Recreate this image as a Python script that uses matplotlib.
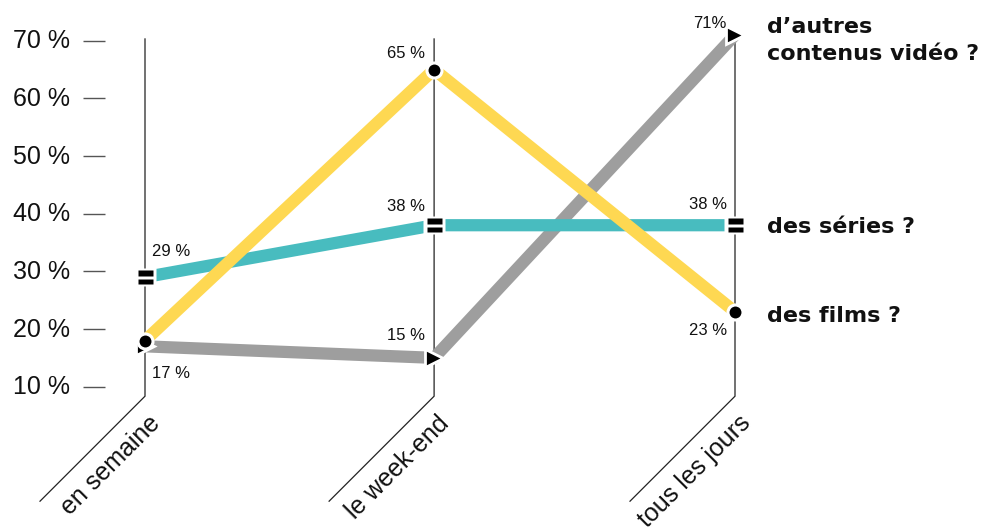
import matplotlib
matplotlib.use("Agg")
import matplotlib.pyplot as plt
from matplotlib.path import Path

# ---------------- data ----------------
categories = ["en semaine", "le week-end", "tous les jours"]
films = [18, 65, 23]
series = [29, 38, 38]
autres = [17, 15, 71]
ytick_values = [10, 20, 30, 40, 50, 60, 70]
ytick_labels = ["10 %", "20 %", "30 %", "40 %", "50 %", "60 %", "70 %"]
films_labels = [None, "65 %", "23 %"]
series_labels = ["29 %", "38 %", "38 %"]
autres_labels = ["17 %", "15 %", "71%"]
legend_films = "des films ?"
legend_series = "des séries ?"
legend_autres = ["d’autres", "contenus vidéo ?"]

# ---------------- layout ----------------
W, H, DPI = 995, 527, 100
xpos = [0, 0.98, 2]
PX_X0, PX_PER_X = 145, 295
PX_Y10, PX_PER_PCT = 386.7, 5.767

YELLOW = "#fed852"
TEAL = "#48bcbf"
GRAY = "#9e9e9e"

fig = plt.figure(figsize=(W / DPI, H / DPI), dpi=DPI)
ax = fig.add_axes([0, 0, 1, 1])
ax.set_xlim(-PX_X0 / PX_PER_X, (W - PX_X0) / PX_PER_X)
ax.set_ylim(10 - (H - PX_Y10) / PX_PER_PCT, 10 + PX_Y10 / PX_PER_PCT)
ax.axis("off")

num_font = "Liberation Sans"

# y ticks (left)
for v, lab in zip(ytick_values, ytick_labels):
    ax.plot([-62 / PX_PER_X, -40 / PX_PER_X], [v, v], color="#555555", lw=1.0,
            solid_capstyle="butt")
    ax.annotate(lab, xy=(xpos[0], v), xytext=(-75, -7.6), textcoords="offset pixels",
                ha="right", va="baseline", fontsize=18, family=num_font, color="#111111")

# vertical guides with diagonal feet and category labels
top = max(ytick_values) + 0.3
bend = 10 - 9.5 / PX_PER_PCT
dx = -105 / PX_PER_X
dy = -105 / PX_PER_PCT
for x, cat in zip(xpos, categories):
    ax.plot([x, x, x + dx], [top, bend, bend + dy], color="#222222", lw=0.9,
            zorder=1, solid_joinstyle="miter")
    ax.annotate(cat, xy=(x, bend), xytext=(3, -15), textcoords="offset pixels",
                rotation=45, rotation_mode="anchor", ha="right", va="top",
                fontsize=18, family=num_font, color="#111111")

LW = 8.8
ax.plot(xpos, autres, color=GRAY, lw=LW, solid_capstyle="butt", zorder=2)
ax.plot(xpos, series, color=TEAL, lw=LW, solid_capstyle="butt", zorder=3)
ax.plot(xpos, films, color=YELLOW, lw=LW, solid_capstyle="butt", zorder=4)

# markers
def rect(x0, x1, y0, y1):
    return [(x0, y0), (x1, y0), (x1, y1), (x0, y1), (x0, y0)]

RC = [Path.MOVETO, Path.LINETO, Path.LINETO, Path.LINETO, Path.CLOSEPOLY]
eq_path = Path(rect(-0.5, 0.5, 0.1, 0.45) + rect(-0.5, 0.5, -0.45, -0.1), RC * 2)
box_path = Path(rect(-0.5, 0.5, -0.4, 0.4), RC)
px2pt = 72 / DPI

ax.plot(xpos, series, ls="none", marker=box_path, ms=22 * px2pt, mfc="white",
        mec="none", zorder=5)
ax.plot(xpos, series, ls="none", marker=eq_path, ms=15 * px2pt, mfc="black",
        mec="none", zorder=5.5)
ax.plot(xpos, autres, ls="none", marker=">", ms=18 * px2pt, mfc="black",
        mec="white", mew=2, zorder=5)
ax.plot(xpos, films, ls="none", marker="o", ms=15 * px2pt, mfc="black",
        mec="white", mew=2.2, zorder=6)

# value labels (offsets in pixels)
def vlabel(x, y, txt, off, ha):
    if txt is None:
        return
    ax.annotate(txt, xy=(x, y), xytext=off, textcoords="offset pixels", ha=ha,
                va="baseline", fontsize=12, family=num_font, color="#111111", zorder=7)

vlabel(xpos[0], series[0], series_labels[0], (7, 21), "left")
vlabel(xpos[0], autres[0], autres_labels[0], (7, -31.7), "left")
vlabel(xpos[1], films[1], films_labels[1], (-9, 11.5), "right")
vlabel(xpos[1], series[1], series_labels[1], (-9, 14), "right")
vlabel(xpos[1], autres[1], autres_labels[1], (-9, 18), "right")
vlabel(xpos[2], autres[2], autres_labels[2], (-8, 7), "right")
vlabel(xpos[2], series[2], series_labels[2], (-8, 16), "right")
vlabel(xpos[2], films[2], films_labels[2], (-8, -23.3), "right")

# series names on the right
def name(y, txt, dyp):
    ax.annotate(txt, xy=(xpos[2], y), xytext=(32, dyp), textcoords="offset pixels",
                ha="left", va="baseline", fontsize=16, family="DejaVu Sans",
                fontweight="bold", color="#111111")

name(autres[2], legend_autres[0], 2)
name(autres[2], legend_autres[1], -25)
name(series[2], legend_series, -8)
name(films[2], legend_films, -10)

fig.savefig("out.png", dpi=DPI)
